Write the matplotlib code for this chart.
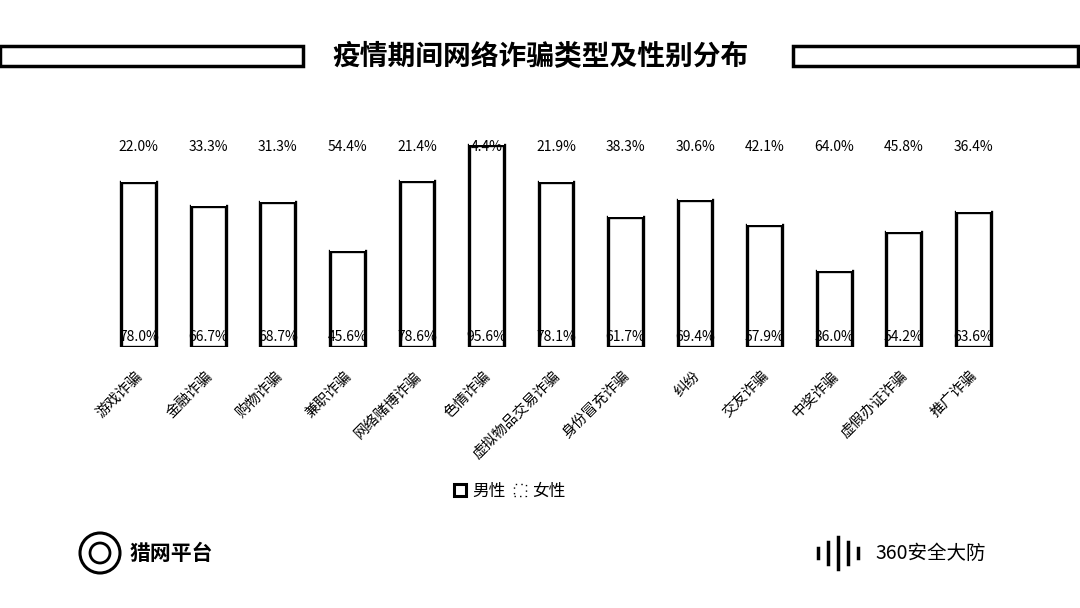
import numpy as np
import matplotlib
matplotlib.use("Agg")
import matplotlib.pyplot as plt
import matplotlib.transforms as mtransforms
from matplotlib.patches import Rectangle, Ellipse
from matplotlib.lines import Line2D

plt.rcParams['font.family'] = ['Noto Sans CJK SC', 'DejaVu Sans']

categories = ["游戏诈骗", "金融诈骗", "购物诈骗", "兼职诈骗", "网络赌博诈骗", "色情诈骗",
              "虚拟物品交易诈骗", "身份冒充诈骗", "纠纷", "交友诈骗", "中奖诈骗",
              "虚假办证诈骗", "推广诈骗"]
male = [78.0, 66.7, 68.7, 45.6, 78.6, 95.6, 78.1, 61.7, 69.4, 57.9, 36.0, 54.2, 63.6]
female = [22.0, 33.3, 31.3, 54.4, 21.4, 4.4, 21.9, 38.3, 30.6, 42.1, 64.0, 45.8, 36.4]

fig = plt.figure(figsize=(10.8, 6.08), dpi=100)
ax = fig.add_axes([104 / 1080, 1 - 347 / 608, 904 / 1080, 211.5 / 608])

x = np.arange(len(categories))
ax.bar(x, male, width=0.5, color="white", edgecolor="black", linewidth=2.4)
ax.bar(x, female, width=0.5, bottom=male, color="white", edgecolor="none")

for i in range(len(categories)):
    ax.text(x[i], 1.5, f"{male[i]:.1f}%", ha="center", va="bottom", fontsize=10)
    ax.text(x[i], 98, f"{female[i]:.1f}%", ha="center", va="top", fontsize=10)

ax.set_xlim(-0.5, len(categories) - 0.5)
ax.set_ylim(0, 100)
ax.set_yticks([])
ax.set_xticks([])
for s in ax.spines.values():
    s.set_visible(False)

# category labels, rotated below the bars
offset = mtransforms.ScaledTranslation(-3 / 100, -22 / 100, fig.dpi_scale_trans)
lbl_tr = ax.get_xaxis_transform() + offset
for i, name in enumerate(categories):
    ax.text(x[i], 0, name, transform=lbl_tr, rotation=45, ha="right", va="top",
            rotation_mode="anchor", fontsize=10.5, fontweight="medium")

# title with side bars
fig.text(0.5, 1 - 57 / 608, "疫情期间网络诈骗类型及性别分布", ha="center", va="center",
         fontsize=20, fontweight="bold")
fig.patches.append(Rectangle((0 / 1080, 1 - 66 / 608), 303 / 1080, 20 / 608,
                             transform=fig.transFigure, fill=False,
                             edgecolor="black", linewidth=2.5))
fig.patches.append(Rectangle((793 / 1080, 1 - 66 / 608), 285 / 1080, 20 / 608,
                             transform=fig.transFigure, fill=False,
                             edgecolor="black", linewidth=2.5))

# legend
handles = [Rectangle((0, 0), 1, 1, facecolor="white", edgecolor="black", linewidth=2.2),
           Rectangle((0, 0), 1, 1, facecolor="white", edgecolor="black", linewidth=1.0,
                     linestyle=(0, (1, 3)))]
fig.legend(handles, ["男性", "女性"], loc="center", bbox_to_anchor=(510 / 1080, 1 - 491 / 608),
           ncol=2, frameon=False, fontsize=12, handlelength=0.7, handleheight=0.7,
           handletextpad=0.4, columnspacing=0.5)

# footer logos
fig.patches.append(Ellipse((100 / 1080, 1 - 553 / 608), 40 / 1080, 40 / 608,
                           transform=fig.transFigure, fill=False,
                           edgecolor="black", linewidth=2.2))
fig.patches.append(Ellipse((100 / 1080, 1 - 553 / 608), 20 / 1080, 20 / 608,
                           transform=fig.transFigure, fill=False,
                           edgecolor="black", linewidth=2))
fig.text(130 / 1080, 1 - 553 / 608, "猎网平台", ha="left", va="center", fontsize=15,
         fontweight="bold")
for xx, h in [(818, 10), (828, 22), (838, 32), (848, 22), (858, 10)]:
    fig.lines.append(Line2D([xx / 1080, xx / 1080],
                            [1 - (553 + h / 2) / 608, 1 - (553 - h / 2) / 608],
                            transform=fig.transFigure, color="black", linewidth=2.5))
fig.text(875 / 1080, 1 - 553 / 608, "360安全大防", ha="left", va="center", fontsize=14)

fig.savefig("out.png", dpi=100, facecolor="white")
